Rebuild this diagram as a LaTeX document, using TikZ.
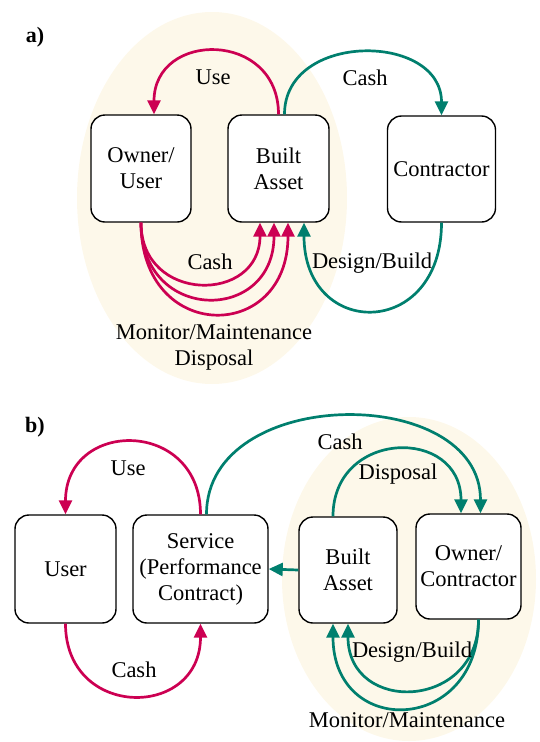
\documentclass[tikz,border=0pt]{standalone}
\usepackage{fontspec}
\setmainfont{Liberation Serif}
\usetikzlibrary{arrows.meta}
\definecolor{crimson}{HTML}{CC0052}
\definecolor{tealgreen}{HTML}{007F6E}
\definecolor{cream}{HTML}{FDF8EA}

\begin{document}
\begin{tikzpicture}[x=1pt,y=-1pt,
    font=\fontsize{22.5}{26}\selectfont,
    box/.style={draw,line width=1.4pt,rounded corners=14pt,fill=white,align=center,inner sep=0pt},
    flow/.style={line width=2.7pt,-{Triangle[length=14pt,width=13pt]}},
    lbl/.style={align=center}]
      \useasboundingbox (0,0) rectangle (540,742);
      % a)
      \fill[cream] (212,198) ellipse (135 and 186);
      \node[font=\fontsize{22}{26}\selectfont\bfseries] at (35,37) (tagA) {a)};
      \node[box,minimum width=100pt,minimum height=107pt] at (141,168.5)   (owner) {Owner/\\User};
      \node[box,minimum width=101pt,minimum height=107pt] at (278.5,168.5) (asset) {Built\\Asset};
      \node[box,minimum width=108pt,minimum height=106pt] at (441.5,169)   (contractor) {Contractor};
      \path[draw,flow,crimson] (asset.north) .. controls +(0,-84) and +(0,-84) .. ([xshift=13pt]owner.north);
      \path[draw,flow,tealgreen] ([xshift=6pt]asset.north) .. controls +(0,-83) and +(0,-83) .. (contractor.north);
      \path[draw,flow,crimson] (owner.south) .. controls +(0,81) and +(0,81) .. ([xshift=-18.5pt]asset.south);
      \path[draw,flow,crimson] (owner.south) .. controls +(0,101) and +(0,101) .. ([xshift=-4.5pt]asset.south);
      \path[draw,flow,crimson] (owner.south) .. controls +(0,121) and +(0,121) .. ([xshift=9.5pt]asset.south);
      \path[draw,flow,tealgreen] (contractor.south) .. controls +(0,117) and +(0,117) .. ([xshift=25.5pt]asset.south);
      \node[lbl] at (213,77)  (useA) {Use};
      \node[lbl] at (365,78)  (cashA) {Cash};
      \node[lbl] at (210,262) (payA) {Cash};
      \node[lbl] at (372,263) (buildA) {Design/Build};
      \node[lbl] at (214,347) (careA) {Monitor/Maintenance\\Disposal};
      % b)
      \fill[cream] (409,579) ellipse (127 and 162);
      \node[font=\fontsize{22}{26}\selectfont\bfseries] at (35,427) (tagB) {b)};
      \node[box,minimum width=101pt,minimum height=108pt] at (65.5,569)  (user) {User};
      \node[box,minimum width=135pt,minimum height=108pt] at (200.5,569) (service) {Service\\(Performance\\Contract)};
      \node[box,minimum width=98pt,minimum height=106pt]  at (348,570)   (basset) {Built\\Asset};
      \node[box,minimum width=105pt,minimum height=105pt] at (468.5,566.5) (ownerc) {Owner/\\Contractor};
      \path[draw,flow,crimson] (service.north) .. controls +(0,-96) and +(0,-96) .. (user.north);
      \path[draw,flow,tealgreen] ([xshift=6pt]service.north) .. controls +(0,-130) and +(0,-130) .. ([xshift=12pt]ownerc.north);
      \path[draw,flow,tealgreen] ([xshift=-15pt]basset.north) .. controls +(0,-87) and +(0,-87) .. ([xshift=-7.5pt]ownerc.north);
      \path[draw,flow,tealgreen] (basset.west) -- (service.east);
      \path[draw,flow,crimson] (user.south) .. controls +(0,96) and +(0,96) .. (service.south);
      \path[draw,flow,tealgreen] ([xshift=10pt]ownerc.south) .. controls +(0,91) and +(0,91) .. (basset.south);
      \path[draw,flow,tealgreen] ([xshift=10pt]ownerc.south) .. controls +(0,115) and +(0,115) .. ([xshift=-15pt]basset.south);
      \node[lbl] at (128,468) (useB) {Use};
      \node[lbl] at (340,442) (cashB) {Cash};
      \node[lbl] at (398,474) (dispB) {Disposal};
      \node[lbl] at (134,670) (payB) {Cash};
      \node[lbl] at (412,652) (buildB) {Design/Build};
      \node[lbl] at (407,720) (careB) {Monitor/Maintenance};
    \end{tikzpicture}
\end{document}
